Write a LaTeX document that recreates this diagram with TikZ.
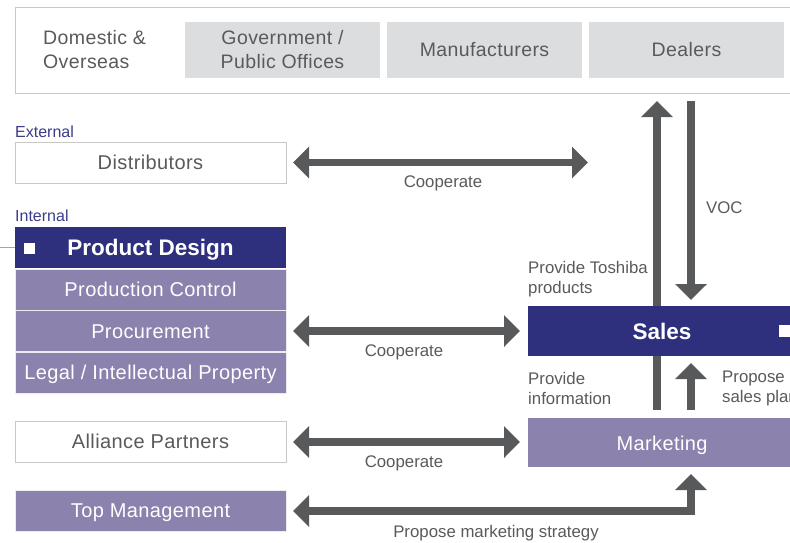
\documentclass[tikz,border=0pt]{standalone}
\usepackage{fontspec}
\setmainfont{Liberation Sans}
\newfontfamily\spacedfont{Liberation Sans}[LetterSpace=2.0]
\usetikzlibrary{arrows.meta}
\definecolor{navy}{RGB}{46,48,126}
\definecolor{lilac}{RGB}{139,130,173}
\definecolor{arrowgray}{RGB}{88,89,91}
\definecolor{textgray}{RGB}{90,90,90}
\definecolor{lightfill}{RGB}{220,221,223}
\definecolor{bordergray}{RGB}{200,200,200}
\definecolor{labelnavy}{RGB}{60,60,140}
\tikzset{
  box/.style={minimum width=271pt, minimum height=41pt, inner sep=0pt, outer sep=0pt,
    anchor=north west, text height=14.3pt, text depth=0pt,
    font=\spacedfont\fontsize{20}{22}\selectfont},
  whitebox/.style={box, draw=bordergray, line width=1pt, fill=white, text=textgray},
  lilacbox/.style={box, fill=lilac, draw=white!85!lilac, line width=0.8pt, text=white},
  topbox/.style={minimum width=195pt, minimum height=56pt, inner sep=0pt, outer sep=0pt,
    anchor=north west, fill=lightfill, text=textgray, align=center,
    font=\spacedfont\fontsize{19.5}{24}\selectfont},
  small/.style={text=textgray, inner sep=0pt, font=\fontsize{16.8}{20}\selectfont},
  sectlabel/.style={text=labelnavy, inner sep=0pt, anchor=west, font=\fontsize{16}{19}\selectfont},
  bigarrow/.style={line width=7.5pt, draw=arrowgray, line join=miter,
    -{Triangle[length=16pt,width=31pt]}},
  bigdouble/.style={line width=7.5pt, draw=arrowgray, line join=miter,
    {Triangle[length=16pt,width=31pt]}-{Triangle[length=16pt,width=31pt]}},
  sqmark/.style={fill=white, minimum size=11pt, inner sep=0pt}
}
\begin{document}
\begin{tikzpicture}[x=1pt,y=-1pt]
\useasboundingbox (0,0) rectangle (790,542);
\clip (0,0) rectangle (790,542);
\fill[white] (0,0) rectangle (790,542);

% top group
\node[draw=bordergray, line width=1.2pt, minimum width=800pt, minimum height=86pt,
  inner sep=0pt, anchor=north west] (outside) at (15,7) {};
\node[anchor=west, align=left, text=textgray, inner sep=0pt,
  font=\spacedfont\fontsize{19.5}{24}\selectfont] (domestic) at (43,50) {Domestic \&\\Overseas};
\node[topbox] (gov) at (185,22) {Government /\\Public Offices};
\node[topbox] (manu) at (387,22) {Manufacturers};
\node[topbox] (dealers) at (589,22) {Dealers};

% external
\node[sectlabel] (extlabel) at (15,131.5) {External};
\node[whitebox] (dist) at (15,142) {Distributors};

% internal
\node[sectlabel] (intlabel) at (15,215.5) {Internal};
\node[box, fill=navy, text=white, text height=16pt, font=\fontsize{22.5}{26}\bfseries] (pd) at (15,227) {Product Design};
\node[lilacbox] (pc) at (15,269) {Production Control};
\node[lilacbox] (proc) at (15,310.5) {Procurement};
\node[lilacbox] (legal) at (15,352) {Legal / Intellectual Property};
\node[sqmark] (pdsq) at (29,248) {};
\coordinate (leftend) at (0,247);
\draw[arrowgray!55, line width=0.8pt] (leftend) -- (pd.west |- leftend);

\node[whitebox] (alliance) at (15,421) {Alliance Partners};
\node[lilacbox] (topm) at (15,490) {Top Management};

% vertical arrows
\coordinate (upbot) at (657,410);
\coordinate (uptop) at (657,101);
\coordinate (vocstart) at (691,101);
\coordinate (voctip) at (691,300);
\coordinate (pspbot) at (691,410);
\coordinate (psptip) at (691,363);
\draw[bigarrow] (upbot) -- (uptop);
\draw[bigarrow] (vocstart) -- (voctip);
\draw[bigarrow] (pspbot) -- (psptip);

% sales & marketing
\node[minimum width=268pt, minimum height=50pt, inner sep=0pt, outer sep=0pt,
  anchor=north west, fill=navy] (sales) at (528,306) {};
\node[text=white, inner sep=0pt, text height=16pt, text depth=0pt,
  font=\fontsize{22.5}{26}\bfseries] (salestext) at (662,331) {Sales};
\node[sqmark, minimum size=12pt] (salessq) at (785,331) {};
\node[minimum width=268pt, minimum height=49pt, inner sep=0pt, outer sep=0pt,
  anchor=north west, fill=lilac] (mkt) at (528,417.5) {};
\node[text=white, inner sep=0pt, text height=14.3pt, text depth=0pt,
  font=\spacedfont\fontsize{20}{22}\selectfont] (mkttext) at (662,443) {Marketing};

% horizontal arrows
\coordinate (distend) at (588,162.5);
\draw[bigdouble] ([xshift=7pt]dist.east) -- (distend);
\draw[bigdouble] ([xshift=7pt]proc.east) -- ([xshift=-8pt]sales.west |- proc.east);
\coordinate (allrow) at (0,442);
\draw[bigdouble] ([xshift=7pt]alliance.east |- allrow) -- ([xshift=-8pt]mkt.west |- allrow);
\coordinate (corner) at (691,511);
\coordinate (mkttip) at (691,474);
\draw[bigdouble] ([xshift=7pt]topm.east |- corner) -- (corner) -- (mkttip);

% labels
\node[small] (c1) at (443,183.5) {Cooperate};
\node[small] (c2) at (404,352) {Cooperate};
\node[small] (c3) at (404,463) {Cooperate};
\node[small] (pms) at (496,533) {Propose marketing strategy};
\node[small, anchor=west] (voc) at (706,208) {VOC};
\node[small, anchor=west, align=left] (pts) at (528,279.5) {Provide Toshiba\\products};
\node[small, anchor=west, align=left] (pinfo) at (528,388.5) {Provide\\information};
\node[small, anchor=west, align=left] (psp) at (722,388.5) {Propose\\sales plan};
\end{tikzpicture}
\end{document}
